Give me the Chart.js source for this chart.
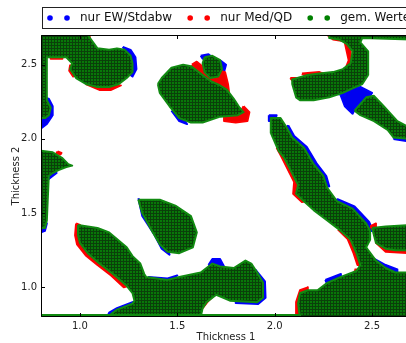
<!DOCTYPE html>
<html>
<head>
<meta charset="utf-8">
<script src="https://cdn.jsdelivr.net/npm/chart.js@4.4.1/dist/chart.umd.min.js"></script>
<style>
  html, body { margin: 0; padding: 0; background: #fff; overflow: hidden; }
  #wrap { width: 420px; height: 343px; }
</style>
</head>
<body>
<div id="wrap"><canvas id="chart" width="420" height="343"></canvas></div>
<script>
// Thickness 1 / Thickness 2 regions, each blob traced as an outline [x, y]

const xTicks = [1.0, 1.5, 2.0, 2.5];
const yTicks = [1.0, 1.5, 2.0, 2.5];
const seriesLabels = ['nur EW/Stdabw', 'nur Med/QD', 'gem. Werte'];

// gem. Werte (green)
const bothTopLeft = [[0.80,2.70],[1.04,2.70],[1.09,2.61],[1.15,2.60],[1.19,2.61],[1.23,2.60],[1.26,2.56],[1.27,2.51],[1.27,2.45],[1.24,2.41],[1.20,2.37],[1.15,2.35],[1.09,2.35],[1.03,2.37],[0.98,2.41],[0.95,2.47],[0.96,2.51],[0.93,2.55],[0.83,2.55],[0.83,2.26],[0.85,2.21],[0.84,2.16],[0.82,2.14],[0.80,2.14]];
const bothLeftMid = [[0.80,1.92],[0.86,1.91],[0.91,1.87],[0.94,1.83],[0.96,1.82],[0.93,1.81],[0.89,1.79],[0.86,1.77],[0.84,1.75],[0.83,1.45],[0.82,1.40],[0.80,1.40]];
const bothCentre = [[1.30,1.59],[1.41,1.59],[1.49,1.55],[1.57,1.48],[1.60,1.37],[1.58,1.27],[1.51,1.23],[1.45,1.24],[1.41,1.29],[1.37,1.38],[1.32,1.50]];
const bothLower = [[0.99,1.42],[1.09,1.40],[1.15,1.37],[1.24,1.27],[1.27,1.21],[1.31,1.16],[1.33,1.09],[1.34,1.07],[1.45,1.05],[1.51,1.07],[1.62,1.10],[1.68,1.16],[1.72,1.14],[1.79,1.13],[1.85,1.18],[1.88,1.16],[1.91,1.10],[1.94,1.03],[1.94,0.93],[1.91,0.90],[1.77,0.91],[1.70,0.95],[1.65,0.90],[1.63,0.86],[1.62,0.80],[1.15,0.80],[1.16,0.82],[1.19,0.85],[1.27,0.89],[1.28,0.91],[1.27,0.96],[1.24,1.01],[1.17,1.09],[1.10,1.16],[1.04,1.23],[1.00,1.30],[0.99,1.35]];
const bothBottomRow = [[0.80,0.80],[2.13,0.80],[2.13,0.813],[0.80,0.813]];
const bothTopMid = [[1.40,2.37],[1.42,2.41],[1.47,2.48],[1.53,2.50],[1.57,2.49],[1.62,2.44],[1.67,2.39],[1.72,2.36],[1.755,2.33],[1.79,2.27],[1.82,2.21],[1.84,2.18],[1.81,2.16],[1.72,2.15],[1.63,2.11],[1.57,2.11],[1.51,2.14],[1.46,2.22],[1.41,2.31]];
const bothTopMidCol = [[1.64,2.55],[1.68,2.56],[1.72,2.53],[1.73,2.47],[1.71,2.42],[1.67,2.41],[1.64,2.45],[1.63,2.51]];
const bothTopRight = [[2.28,2.70],[2.70,2.70],[2.70,2.67],[2.45,2.68],[2.44,2.65],[2.48,2.59],[2.48,2.43],[2.45,2.37],[2.40,2.34],[2.35,2.31],[2.28,2.28],[2.20,2.26],[2.13,2.26],[2.11,2.28],[2.09,2.37],[2.09,2.40],[2.17,2.43],[2.23,2.44],[2.30,2.45],[2.35,2.47],[2.39,2.51],[2.40,2.59],[2.37,2.64],[2.33,2.67],[2.28,2.68]];
const bothRightArm = [[2.41,2.19],[2.47,2.28],[2.51,2.29],[2.56,2.22],[2.63,2.12],[2.70,2.07],[2.70,2.00],[2.61,2.01],[2.58,2.06],[2.51,2.12],[2.44,2.16]];
const bothRightBand = [[1.98,2.14],[1.98,2.04],[2.02,1.92],[2.05,1.87],[2.12,1.69],[2.11,1.63],[2.15,1.58],[2.20,1.52],[2.27,1.45],[2.34,1.38],[2.39,1.32],[2.42,1.23],[2.44,1.15],[2.42,1.11],[2.34,1.07],[2.27,1.03],[2.22,0.98],[2.17,0.98],[2.13,0.96],[2.12,0.89],[2.13,0.80],[2.70,0.80],[2.70,1.10],[2.62,1.10],[2.57,1.13],[2.52,1.18],[2.48,1.25],[2.47,1.27],[2.49,1.32],[2.49,1.38],[2.47,1.43],[2.40,1.53],[2.32,1.58],[2.27,1.67],[2.25,1.75],[2.20,1.83],[2.15,1.94],[2.09,2.01],[2.06,2.08],[2.03,2.14]];
const bothRightLobe = [[2.50,1.40],[2.57,1.41],[2.70,1.42],[2.70,1.25],[2.62,1.25],[2.57,1.26],[2.52,1.30]];

// nur EW/Stdabw (blue)
const ewTopLeftRim = [[1.22,2.62],[1.26,2.60],[1.285,2.55],[1.29,2.47],[1.27,2.42],[1.25,2.44],[1.25,2.55]];
const ewTopLeftFoot = [[0.80,2.28],[0.84,2.27],[0.86,2.22],[0.86,2.16],[0.83,2.10],[0.80,2.07]];
const ewLeftMidNotch = [[0.84,1.78],[0.88,1.77],[0.86,1.75],[0.84,1.73]];
const ewLeftMidFoot = [[0.80,1.44],[0.83,1.43],[0.82,1.38],[0.80,1.37]];
const ewCentreRim = [[1.30,1.60],[1.32,1.48],[1.38,1.36],[1.42,1.26],[1.46,1.22],[1.45,1.26],[1.40,1.33],[1.35,1.45],[1.31,1.56]];
const ewLowerBump = [[1.66,1.15],[1.68,1.19],[1.72,1.19],[1.74,1.14],[1.70,1.13]];
const ewLowerRight = [[1.90,1.12],[1.95,1.04],[1.953,0.93],[1.915,0.887],[1.80,0.895],[1.80,0.92],[1.92,0.92],[1.93,1.03],[1.89,1.10]];
const ewLowerTop = [[1.35,1.07],[1.45,1.06],[1.50,1.08],[1.45,1.04],[1.36,1.05]];
const ewLowerFoot = [[1.14,0.80],[1.15,0.83],[1.19,0.86],[1.27,0.90],[1.29,0.91],[1.27,0.87],[1.19,0.83],[1.16,0.80]];
const ewTopMidBits = [[1.62,2.56],[1.66,2.57],[1.68,2.55],[1.63,2.54]];
const ewTopMidRight = [[1.72,2.53],[1.75,2.50],[1.74,2.45],[1.72,2.47]];
const ewTopMidFoot = [[1.47,2.19],[1.51,2.12],[1.55,2.10],[1.52,2.15]];
const ewTopRightFoot = [[2.33,2.33],[2.37,2.34],[2.36,2.29],[2.33,2.30]];
const ewRightArmHead = [[2.35,2.33],[2.44,2.35],[2.50,2.31],[2.48,2.27],[2.42,2.22],[2.40,2.17],[2.36,2.22],[2.34,2.29]];
const ewRightArmTail = [[2.61,2.00],[2.70,1.98],[2.70,2.07],[2.64,2.06]];
const ewBandUpper = [[2.07,2.09],[2.10,2.02],[2.165,1.945],[2.215,1.835],[2.265,1.75],[2.28,1.68],[2.26,1.68],[2.24,1.75],[2.19,1.83],[2.14,1.93],[2.08,2.00],[2.05,2.07]];
const ewBandLower = [[2.32,1.595],[2.41,1.545],[2.485,1.44],[2.505,1.38],[2.48,1.38],[2.46,1.42],[2.39,1.52],[2.31,1.57]];
const ewBandHead = [[1.97,2.16],[2.01,2.16],[2.00,2.12],[1.97,2.12]];
const ewBandShelf = [[2.50,1.20],[2.57,1.15],[2.63,1.12],[2.63,1.08],[2.55,1.10],[2.49,1.16]];
const ewBandStep = [[2.26,1.05],[2.34,1.09],[2.34,1.05],[2.27,1.02]];

// nur Med/QD (red)
const medTopLeftBase = [[1.03,2.37],[1.10,2.33],[1.16,2.33],[1.21,2.36],[1.15,2.36]];
const medTopLeftSide = [[0.95,2.50],[0.945,2.46],[0.965,2.42],[0.965,2.47]];
const medTopLeftBand = [[0.85,2.56],[0.91,2.56],[0.91,2.54],[0.85,2.54]];
const medTopLeftCap = [[0.96,2.70],[1.05,2.70],[1.05,2.68],[0.96,2.68]];
const medLeftMidTip = [[0.885,1.915],[0.905,1.905],[0.90,1.895],[0.88,1.905]];
const medLowerArm = [[0.98,1.43],[0.975,1.35],[0.985,1.29],[1.03,1.215],[1.09,1.15],[1.16,1.08],[1.225,1.00],[1.25,1.01],[1.18,1.10],[1.11,1.17],[1.05,1.24],[1.01,1.31],[1.00,1.42]];
const medLowerLobe = [[1.70,0.96],[1.66,0.91],[1.63,0.86],[1.61,0.86],[1.63,0.92],[1.67,0.96]];
const medTopMid = [[1.575,2.50],[1.60,2.52],[1.645,2.47],[1.72,2.46],[1.745,2.45],[1.76,2.37],[1.765,2.32],[1.72,2.34],[1.66,2.38],[1.60,2.45]];
const medTopMidTail = [[1.84,2.22],[1.87,2.18],[1.86,2.12],[1.80,2.11],[1.74,2.12],[1.74,2.16],[1.82,2.17]];
const medTopRightCap = [[2.27,2.70],[2.33,2.70],[2.35,2.66],[2.30,2.67]];
const medTopRightNeck = [[2.36,2.65],[2.39,2.62],[2.39,2.50],[2.36,2.46],[2.38,2.53]];
const medTopRightTop = [[2.14,2.44],[2.23,2.45],[2.25,2.44],[2.16,2.42]];
const medTopRightEnd = [[2.08,2.41],[2.11,2.41],[2.10,2.38]];
const medBandUpper = [[2.01,1.94],[2.035,1.88],[2.10,1.71],[2.095,1.63],[2.14,1.575],[2.16,1.58],[2.11,1.64],[2.12,1.70],[2.05,1.87],[2.02,1.92]];
const medBandLower = [[2.325,1.39],[2.375,1.325],[2.405,1.23],[2.425,1.15],[2.45,1.15],[2.43,1.24],[2.40,1.33],[2.35,1.39]];
const medBandFoot = [[2.11,0.80],[2.11,0.90],[2.13,0.98],[2.17,1.00],[2.17,0.97],[2.13,0.93],[2.13,0.80]];
const medBandKnee = [[2.41,1.12],[2.45,1.12],[2.43,1.08]];
const medRightLobe = [[2.49,1.41],[2.52,1.43],[2.52,1.30],[2.57,1.24],[2.70,1.23],[2.70,1.27],[2.57,1.28],[2.54,1.33]];

const bothBlobs = [bothTopLeft, bothLeftMid, bothCentre, bothLower, bothBottomRow, bothTopMid, bothTopMidCol,
  bothTopRight, bothRightArm, bothRightBand, bothRightLobe];
const ewBlobs = [ewTopLeftRim, ewTopLeftFoot, ewLeftMidNotch, ewLeftMidFoot, ewCentreRim, ewLowerBump, ewLowerRight,
  ewLowerTop, ewLowerFoot, ewTopMidBits, ewTopMidRight, ewTopMidFoot, ewTopRightFoot, ewRightArmHead,
  ewRightArmTail, ewBandUpper, ewBandLower, ewBandHead, ewBandShelf, ewBandStep];
const medBlobs = [medTopLeftBase, medTopLeftSide, medTopLeftBand, medTopLeftCap, medLeftMidTip, medLowerArm,
  medLowerLobe, medTopMid, medTopMidTail, medTopRightCap, medTopRightNeck, medTopRightTop, medTopRightEnd,
  medBandUpper, medBandLower, medBandFoot, medBandKnee, medRightLobe];

// closed outlines, separated by gaps so each one is filled on its own
function toPoints(blobs) {
  const pts = [];
  blobs.forEach(b => {
    b.forEach(p => pts.push({ x: p[0], y: p[1] }));
    pts.push({ x: b[0][0], y: b[0][1] });
    pts.push({ x: null, y: null });
  });
  return pts;
}

// dense marker texture: coloured dots with dark edges
function texture(base, dark) {
  const c = document.createElement('canvas');
  c.width = 3; c.height = 3;
  const g = c.getContext('2d');
  g.fillStyle = base; g.fillRect(0, 0, 3, 3);
  g.fillStyle = dark; g.fillRect(0, 0, 3, 1); g.fillRect(0, 0, 1, 3);
  return g.createPattern(c, 'repeat');
}

const colors = ['#0000ff', '#ff0000', '#008000'];

function region(label, blobs, fillStyle, edge) {
  return {
    label: label,
    data: toPoints(blobs),
    showLine: true,
    fill: 'shape',
    backgroundColor: fillStyle,
    borderColor: edge,
    borderWidth: 2,
    borderJoinStyle: 'round',
    pointRadius: 0,
    tension: 0,
    spanGaps: false,
    clip: 0
  };
}

const legendBox = {
  id: 'legendBox',
  afterDraw(chart) {
    const ctx = chart.ctx;
    ctx.save();
    ctx.fillStyle = '#fff';
    ctx.strokeStyle = '#222';
    ctx.lineWidth = 1;
    ctx.fillRect(42.5, 7.5, 400, 21);
    ctx.strokeRect(42.5, 7.5, 400, 21);
    ctx.font = '12px "DejaVu Sans"';
    ctx.textBaseline = 'middle';
    let x = 50;
    seriesLabels.forEach((label, i) => {
      ctx.fillStyle = colors[i];
      [x, x + 17].forEach(cx => {
        ctx.beginPath();
        ctx.arc(cx, 18, 2.8, 0, Math.PI * 2);
        ctx.fill();
      });
      ctx.fillStyle = '#111';
      ctx.fillText(label, x + 30, 18);
      x += 30 + ctx.measureText(label).width + 18;
    });
    ctx.restore();
  }
};

// matplotlib-like frame with inward ticks
const frame = {
  id: 'frame',
  afterDatasetsDraw(chart) {
    const { ctx, chartArea: a, scales: { x, y } } = chart;
    ctx.save();
    ctx.strokeStyle = '#000';
    ctx.lineWidth = 1;
    ctx.beginPath();
    ctx.rect(a.left + 0.5, a.top + 0.5, a.right - a.left - 1, a.bottom - a.top - 1);
    xTicks.forEach(v => {
      const p = Math.round(x.getPixelForValue(v)) + 0.5;
      ctx.moveTo(p, a.bottom); ctx.lineTo(p, a.bottom - 4);
      ctx.moveTo(p, a.top); ctx.lineTo(p, a.top + 4);
    });
    yTicks.forEach(v => {
      const p = Math.round(y.getPixelForValue(v)) + 0.5;
      ctx.moveTo(a.left, p); ctx.lineTo(a.left + 4, p);
      ctx.moveTo(a.right, p); ctx.lineTo(a.right - 4, p);
    });
    ctx.stroke();
    ctx.restore();
  }
};

Chart.defaults.font.family = '"DejaVu Sans", sans-serif';
Chart.defaults.font.size = 10;
Chart.defaults.color = '#222';

new Chart(document.getElementById('chart'), {
  type: 'line',
  data: {
    datasets: [
      region(seriesLabels[2], bothBlobs, texture('#087808', '#0a400a'), '#118a11'),
      region(seriesLabels[1], medBlobs, '#f00000', '#ff0000'),
      region(seriesLabels[0], ewBlobs, '#0000f0', '#0000ff')
    ]
  },
  options: {
    responsive: false,
    animation: false,
    events: [],
    layout: { padding: { left: 0, right: 9, top: 35, bottom: 0 } },
    scales: {
      x: {
        type: 'linear',
        min: 0.8,
        max: 2.7,
        afterFit: s => { s.height = 26; },
        afterBuildTicks: s => { s.ticks = xTicks.map(v => ({ value: v })); },
        ticks: { padding: 3, callback: v => v.toFixed(1) },
        grid: { display: false, drawTicks: false },
        border: { display: false },
        title: { display: true, text: 'Thickness 1', padding: { top: 0, bottom: 0 } }
      },
      y: {
        type: 'linear',
        min: 0.8,
        max: 2.7,
        afterFit: s => { s.width = 41; },
        afterBuildTicks: s => { s.ticks = yTicks.map(v => ({ value: v })); },
        ticks: { padding: 4, callback: v => v.toFixed(1) },
        grid: { display: false, drawTicks: false },
        border: { display: false },
        title: { display: true, text: 'Thickness 2', padding: { top: 10, bottom: 0 } }
      }
    },
    plugins: {
      legend: { display: false },
      tooltip: { enabled: false }
    }
  },
  plugins: [frame, legendBox]
});
</script>
</body>
</html>
